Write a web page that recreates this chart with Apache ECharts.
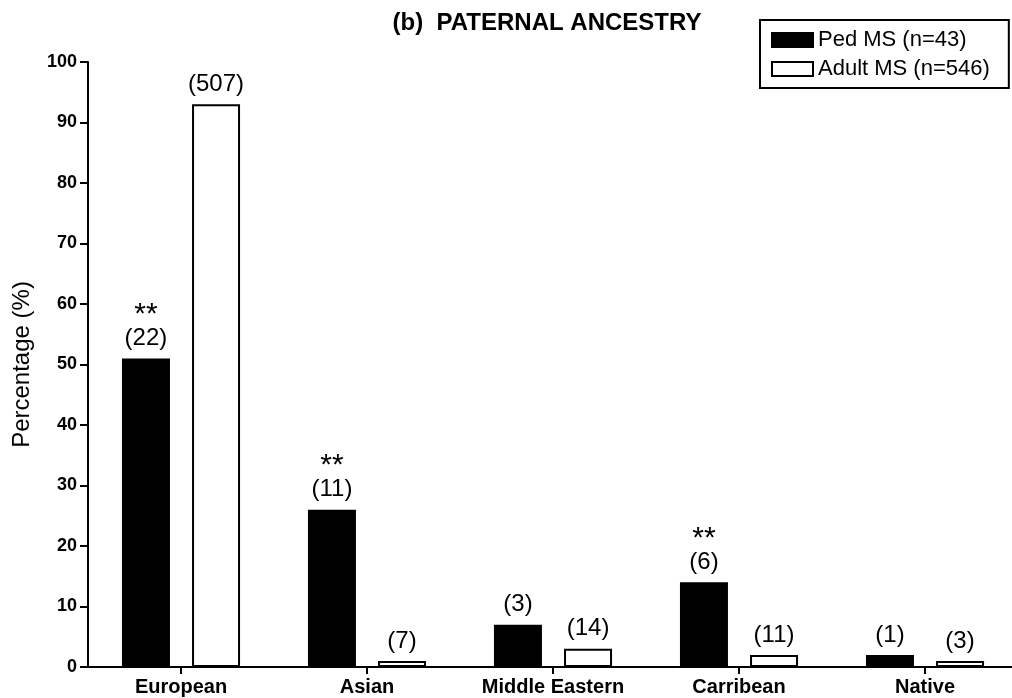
<!DOCTYPE html>
<html>
<head>
<meta charset="utf-8">
<title>Paternal ancestry</title>
<script src="https://cdn.jsdelivr.net/npm/echarts@6/dist/echarts.min.js"></script>
<style>
  html, body { margin: 0; padding: 0; background: #fff; }
  #chart { width: 1012px; height: 698px; }
</style>
</head>
<body>
<div id="chart"></div>
<script>
// Ancestry groups on the x axis
const categories = ['European', 'Asian', 'Middle Eastern', 'Carribean', 'Native'];

// Percentage of patients per group (rounded)
const pedPercent = [51, 26, 7, 14, 2];
const adultPercent = [93, 1, 3, 2, 1];

// Patient counts shown above each bar
const pedCounts = [22, 11, 3, 6, 1];
const adultCounts = [507, 7, 14, 11, 3];

// Significance markers for the paediatric group
const pedStars = ['**', '**', '', '**', ''];

// Y axis tick range
const yMin = 0, yMax = 100, yStep = 10;

const FONT = 'Liberation Sans, Arial, Helvetica, sans-serif';

const labelRich = {
  s: { fontFamily: FONT, fontSize: 30, color: '#000', lineHeight: 26, padding: [10, 0, 6, 0] },
  c: { fontFamily: FONT, fontSize: 24, color: '#000', lineHeight: 26 }
};

function makeLabel(counts, stars) {
  return {
    show: true,
    position: 'top',
    distance: 7,
    formatter: function (p) {
      const star = stars ? stars[p.dataIndex] : '';
      return (star ? '{s|' + star + '}\n' : '') + '{c|(' + counts[p.dataIndex] + ')}';
    },
    rich: labelRich
  };
}

const chart = echarts.init(document.getElementById('chart'), null, { renderer: 'canvas' });

chart.setOption({
  animation: false,
  backgroundColor: '#fff',
  title: {
    text: '(b)  PATERNAL ANCESTRY',
    left: 547,
    top: 11,
    textAlign: 'center',
    padding: 0,
    textStyle: { fontFamily: FONT, fontSize: 24, fontWeight: 'bold', color: '#000' }
  },
  legend: {
    orient: 'vertical',
    left: 760,
    top: 20,
    padding: [9, 19, 8, 11],
    itemGap: 7,
    itemWidth: 41,
    itemHeight: 14,
    borderColor: '#000',
    borderWidth: 2,
    backgroundColor: '#fff',
    textStyle: { fontFamily: FONT, fontSize: 22, color: '#000' },
    data: [
      { name: 'Ped MS (n=43)', icon: 'rect', itemStyle: { color: '#000', borderColor: '#000', borderWidth: 2 } },
      { name: 'Adult MS (n=546)', icon: 'rect', itemStyle: { color: '#fff', borderColor: '#000', borderWidth: 2 } }
    ]
  },
  grid: {
    left: 88,
    top: 62,
    width: 930,
    height: 605,
    containLabel: false,
    outerBoundsMode: 'none'
  },
  xAxis: {
    type: 'category',
    data: categories,
    axisLine: { show: true, lineStyle: { color: '#000', width: 2 } },
    axisTick: { show: true, alignWithLabel: true, length: 7, lineStyle: { color: '#000', width: 2 } },
    axisLabel: {
      interval: 0,
      margin: 10,
      fontFamily: FONT, fontSize: 20, fontWeight: 'bold', color: '#000'
    },
    splitLine: { show: false }
  },
  yAxis: {
    type: 'value',
    min: yMin,
    max: yMax,
    interval: yStep,
    name: 'Percentage (%)',
    nameLocation: 'middle',
    nameRotate: 90,
    nameGap: 54,
    nameTextStyle: { fontFamily: FONT, fontSize: 24, color: '#000', fontWeight: 'normal' },
    axisLine: { show: true, lineStyle: { color: '#000', width: 2 } },
    axisTick: { show: true, length: 8, lineStyle: { color: '#000', width: 2 } },
    axisLabel: {
      margin: 11,
      fontFamily: FONT, fontSize: 18, fontWeight: 'bold', color: '#000'
    },
    splitLine: { show: false }
  },
  series: [
    {
      name: 'Ped MS (n=43)',
      type: 'bar',
      data: pedPercent,
      barWidth: 48,
      barGap: '46%',
      itemStyle: { color: '#000', borderColor: '#000', borderWidth: 2 },
      label: makeLabel(pedCounts, pedStars)
    },
    {
      name: 'Adult MS (n=546)',
      type: 'bar',
      data: adultPercent,
      barWidth: 48,
      itemStyle: { color: '#fff', borderColor: '#000', borderWidth: 2 },
      label: makeLabel(adultCounts, null)
    }
  ]
});
</script>
</body>
</html>
